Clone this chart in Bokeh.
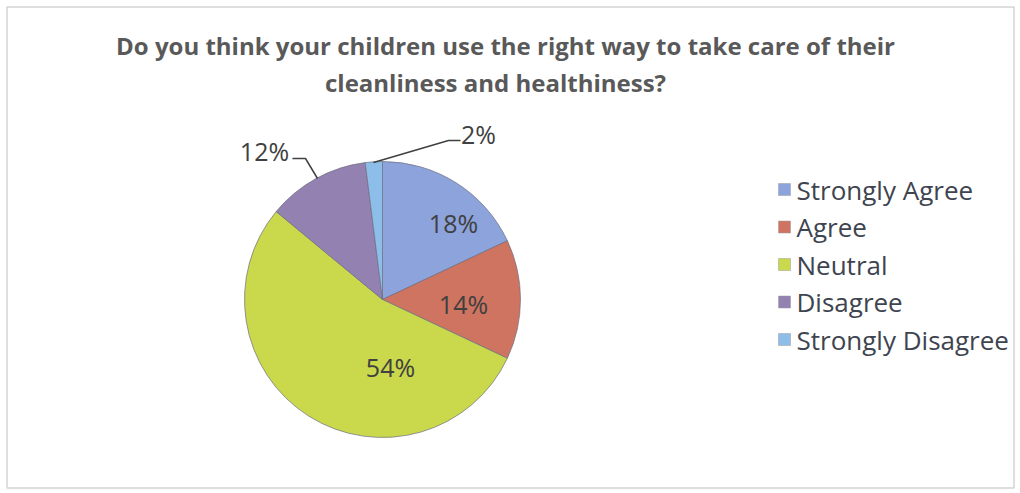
import math
from bokeh.plotting import figure
from bokeh.models import Range1d, ColumnDataSource
from bokeh.core.properties import value
from bokeh.embed import file_html
from bokeh.resources import INLINE

# ---- data ----
categories = ["Strongly Agree", "Agree", "Neutral", "Disagree", "Strongly Disagree"]
percents = [18, 14, 54, 12, 2]
title_lines = ["Do you think your children use the right way to take care of their",
               "cleanliness and healthiness?"]

# ---- styles / layout ----
colors = ["#8DA3DC", "#CF7460", "#CAD84C", "#9381B2", "#8DBEEA"]
W, H = 1020, 493
CX, CY, R = 382, 299, 138          # pie centre (px from top) and radius
FONT = "Open Sans"

def yy(ypx):
    return H - ypx

p = figure(width=W, height=H, x_range=Range1d(0, W), y_range=Range1d(0, H),
           output_backend="svg", toolbar_location=None, min_border=0)
p.axis.visible = False
p.grid.visible = False
p.outline_line_color = None
p.background_fill_color = "white"
p.border_fill_color = "white"

# frame
p.quad(left=[6.5], right=[W - 6.5], bottom=[yy(487.5)], top=[yy(6.5)],
       fill_color=None, line_color="#D4D4D4", line_width=1.5)

# title
p.text(x=[505, 495], y=[yy(45), yy(82)], text=title_lines,
       text_font=value(FONT), text_font_style="bold", text_font_size="24px",
       text_color="#595959", text_align="center", text_baseline="middle")

# pie wedges
total = sum(percents)
starts, ends, cum = [], [], 0.0
for v in percents:
    a0 = cum / total
    cum += v
    a1 = cum / total
    starts.append(math.pi / 2 - 2 * math.pi * a1)
    ends.append(math.pi / 2 - 2 * math.pi * a0)
src = ColumnDataSource(dict(start=starts, end=ends, color=colors, cat=categories))
p.wedge(x=CX, y=yy(CY), radius=R, start_angle="start", end_angle="end",
        fill_color="color", line_color="#6E6E80", line_width=1, line_alpha=0.7,
        source=src)

# data labels (label anchor positions, px from top-left)
label_xy = [(453, 222), (463, 303), (390, 366), (264, 150), (478, 133)]
labels = [f"{v}%" for v in percents]
p.text(x=[q[0] for q in label_xy], y=[yy(q[1]) for q in label_xy], text=labels,
       text_font=value(FONT), text_font_size="25px", text_color="#404040",
       text_align="center", text_baseline="middle")

# leader lines for outside labels
leaders = [
    [(292, 158), (305, 158), (317, 178)],   # 12%
    [(460, 140), (448, 140), (373, 162)],   # 2%
]
for ln in leaders:
    p.line(x=[q[0] for q in ln], y=[yy(q[1]) for q in ln], line_color="#404040",
           line_width=1.5)

# legend
LX, LY0, LDY = 784, 189, 37.5
ly = [yy(LY0 + i * LDY) for i in range(len(categories))]
p.rect(x=[LX] * len(categories), y=ly, width=12, height=12, fill_color=colors,
       line_color="#9A9A9A", line_width=0.5)
p.text(x=[LX + 12] * len(categories), y=ly, text=categories,
       text_font=value(FONT), text_font_size="26px", text_color="#3E4450",
       text_align="left", text_baseline="middle")

open("out.html", "w").write(file_html(p, INLINE))
